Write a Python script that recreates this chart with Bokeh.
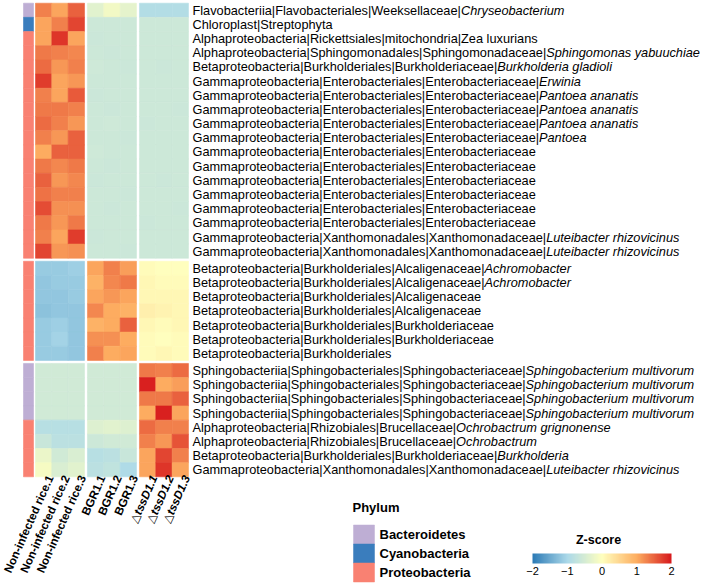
import numpy as np
from bokeh.plotting import figure
from bokeh.models import (Range1d, ColumnDataSource, LinearColorMapper, ColorBar,
                          FixedTicker, CustomJSTickFormatter)
from bokeh.transform import transform
from bokeh.core.properties import value
from bokeh.embed import file_html
from bokeh.resources import INLINE

# ---------------- data ----------------
sample_main = ["Non-infected rice.1", "Non-infected rice.2", "Non-infected rice.3",
               "BGR1.1", "BGR1.2", "BGR1.3", "\u25b3", "\u25b3", "\u25b3"]
sample_ital = ["", "", "", "", "", "", "tssD1.1", "tssD1.2", "tssD1.3"]
sample_group = [0, 0, 0, 1, 1, 1, 2, 2, 2]

row_group = [0, 0, 0, 0, 0, 0, 0, 0, 0, 0, 0, 0, 0, 0, 0, 0, 0, 0,
             1, 1, 1, 1, 1, 1, 1,
             2, 2, 2, 2, 2, 2, 2, 2]

label_main = [
    "Flavobacteriia|Flavobacteriales|Weeksellaceae|",
    "Chloroplast|Streptophyta",
    "Alphaproteobacteria|Rickettsiales|mitochondria|Zea luxurians",
    "Alphaproteobacteria|Sphingomonadales|Sphingomonadaceae|",
    "Betaproteobacteria|Burkholderiales|Burkholderiaceae|",
    "Gammaproteobacteria|Enterobacteriales|Enterobacteriaceae|",
    "Gammaproteobacteria|Enterobacteriales|Enterobacteriaceae|",
    "Gammaproteobacteria|Enterobacteriales|Enterobacteriaceae|",
    "Gammaproteobacteria|Enterobacteriales|Enterobacteriaceae|",
    "Gammaproteobacteria|Enterobacteriales|Enterobacteriaceae|",
    "Gammaproteobacteria|Enterobacteriales|Enterobacteriaceae",
    "Gammaproteobacteria|Enterobacteriales|Enterobacteriaceae",
    "Gammaproteobacteria|Enterobacteriales|Enterobacteriaceae",
    "Gammaproteobacteria|Enterobacteriales|Enterobacteriaceae",
    "Gammaproteobacteria|Enterobacteriales|Enterobacteriaceae",
    "Gammaproteobacteria|Enterobacteriales|Enterobacteriaceae",
    "Gammaproteobacteria|Xanthomonadales|Xanthomonadaceae|",
    "Gammaproteobacteria|Xanthomonadales|Xanthomonadaceae|",
    "Betaproteobacteria|Burkholderiales|Alcaligenaceae|",
    "Betaproteobacteria|Burkholderiales|Alcaligenaceae|",
    "Betaproteobacteria|Burkholderiales|Alcaligenaceae",
    "Betaproteobacteria|Burkholderiales|Alcaligenaceae",
    "Betaproteobacteria|Burkholderiales|Burkholderiaceae",
    "Betaproteobacteria|Burkholderiales|Burkholderiaceae",
    "Betaproteobacteria|Burkholderiales",
    "Sphingobacteriia|Sphingobacteriales|Sphingobacteriaceae|",
    "Sphingobacteriia|Sphingobacteriales|Sphingobacteriaceae|",
    "Sphingobacteriia|Sphingobacteriales|Sphingobacteriaceae|",
    "Sphingobacteriia|Sphingobacteriales|Sphingobacteriaceae|",
    "Alphaproteobacteria|Rhizobiales|Brucellaceae|",
    "Alphaproteobacteria|Rhizobiales|Brucellaceae|",
    "Betaproteobacteria|Burkholderiales|Burkholderiaceae|",
    "Gammaproteobacteria|Xanthomonadales|Xanthomonadaceae|",
]
label_ital = [
    "Chryseobacterium", "", "", "Sphingomonas yabuuchiae", "Burkholderia gladioli",
    "Erwinia", "Pantoea ananatis", "Pantoea ananatis", "Pantoea ananatis", "Pantoea",
    "", "", "", "", "", "", "Luteibacter rhizovicinus", "Luteibacter rhizovicinus",
    "Achromobacter", "Achromobacter", "", "", "", "", "",
    "Sphingobacterium multivorum", "Sphingobacterium multivorum",
    "Sphingobacterium multivorum", "Sphingobacterium multivorum",
    "Ochrobactrum grignonense", "Ochrobactrum", "Burkholderia", "Luteibacter rhizovicinus",
]

phylum = ["Bacteroidetes", "Cyanobacteria"] + ["Proteobacteria"] * 16 + \
         ["Proteobacteria"] * 7 + ["Bacteroidetes"] * 4 + ["Proteobacteria"] * 4
phylum_names = ["Bacteroidetes", "Cyanobacteria", "Proteobacteria"]
phylum_colors = ["#BEAED4", "#3A7DBD", "#F98172"]

ni_1 = [1.30, 1.05, 1.05, 1.35, 1.45, 1.75, 1.30, 1.35, 1.45, 1.30, 1.00, 1.35, 1.50, 1.40, 1.65, 1.35, 1.30, 1.70,
        -1.15, -1.20, -1.20, -1.25, -1.15, -1.15, -1.15,
        -0.55, -0.55, -0.55, -0.55, -0.85, -0.65, -0.25, -0.10]
ni_2 = [1.05, 1.30, 1.80, 1.30, 1.15, 1.05, 1.05, 1.35, 1.30, 1.15, 1.50, 1.25, 1.15, 1.30, 1.20, 1.15, 1.05, 1.15,
        -1.15, -1.15, -1.20, -1.20, -1.10, -1.05, -1.15,
        -0.55, -0.55, -0.55, -0.55, -0.85, -0.80, -0.55, -0.45]
ni_3 = [1.50, 1.70, 1.05, 1.25, 1.30, 1.15, 1.55, 1.30, 1.15, 1.50, 1.50, 1.35, 1.25, 1.30, 1.20, 1.35, 1.75, 1.20,
        -1.10, -1.15, -1.15, -1.20, -1.20, -1.20, -1.20,
        -0.55, -0.55, -0.55, -0.55, -0.85, -0.80, -0.45, -0.35]
bgr_1 = [-0.35, -0.60, -0.62, -0.60, -0.58, -0.60, -0.62, -0.60, -0.60, -0.60, -0.58, -0.60, -0.62, -0.60, -0.60, -0.60, -0.62, -0.60,
         1.05, 0.95, 1.05, 1.25, 0.95, 1.20, 1.30,
         -0.55, -0.55, -0.55, -0.55, -0.40, -0.60, -0.85, -0.80]
bgr_2 = [-0.15, -0.60, -0.60, -0.62, -0.60, -0.60, -0.60, -0.62, -0.58, -0.60, -0.60, -0.62, -0.60, -0.60, -0.62, -0.60, -0.60, -0.60,
         1.30, 1.25, 1.15, 1.00, 1.00, 1.20, 1.00,
         -0.55, -0.55, -0.55, -0.55, -0.35, -0.55, -0.80, -0.75]
bgr_3 = [-0.30, -0.60, -0.60, -0.60, -0.62, -0.60, -0.60, -0.60, -0.60, -0.62, -0.60, -0.60, -0.60, -0.62, -0.60, -0.60, -0.60, -0.62,
         1.10, 1.35, 1.05, 0.95, 1.50, 1.00, 1.05,
         -0.55, -0.55, -0.55, -0.55, -0.40, -0.55, -0.65, -0.95]
tss_1 = [-0.90, -0.60, -0.60, -0.60, -0.60, -0.60, -0.60, -0.60, -0.62, -0.60, -0.60, -0.60, -0.60, -0.60, -0.60, -0.62, -0.60, -0.60,
         0.05, 0.10, 0.10, 0.20, 0.10, 0.05, 0.05,
         1.35, 1.95, 1.35, 1.00, 1.45, 1.30, 1.05, 1.05]
tss_2 = [-0.90, -0.60, -0.60, -0.60, -0.62, -0.60, -0.60, -0.60, -0.60, -0.60, -0.60, -0.60, -0.62, -0.60, -0.60, -0.60, -0.60, -0.60,
         0.00, 0.05, 0.10, 0.15, 0.05, 0.00, 0.10,
         1.30, 1.00, 1.35, 1.95, 1.30, 1.15, 1.70, 1.80]
tss_3 = [-0.90, -0.60, -0.60, -0.60, -0.60, -0.60, -0.60, -0.62, -0.60, -0.60, -0.60, -0.60, -0.60, -0.60, -0.62, -0.60, -0.60, -0.60,
         0.00, 0.05, 0.10, 0.10, 0.10, 0.05, 0.05,
         1.45, 1.10, 1.50, 1.05, 1.30, 1.60, 1.30, 1.05]
columns = [ni_1, ni_2, ni_3, bgr_1, bgr_2, bgr_3, tss_1, tss_2, tss_3]

z_ticks = [-2, -1, 0, 1, 2]
z_anchor_colors = ["#2C7BB6", "#ABD9E9", "#FFFFBF", "#FDAE61", "#D7191C"]

# ---------------- layout (pixels) ----------------
FIG_W, FIG_H = 709, 584
CELL_W, ROW_H = 16.33, 14.17
HM_LEFT, HM_TOP = 35.0, 2.7
COL_GAP, ROW_GAP = 3.0, 3.0
FONT = "Liberation Sans"

gx = COL_GAP / CELL_W
gy = ROW_GAP / ROW_H
x_start = -HM_LEFT / CELL_W
x_end = x_start + FIG_W / CELL_W
y_top = -HM_TOP / ROW_H
y_bottom = y_top + FIG_H / ROW_H


def px2x(px):
    return x_start + px / CELL_W


def px2y(py):
    return y_top + py / ROW_H


_w = {}
for chars, w in [("ijl", 222), ("|", 260), (" .ftI", 278), ("r-", 333),
                 ("cksvxyzJ", 500), ("abdeghnopqu0123456789L", 556), ("FTZ", 611),
                 ("ABEKPSVXY", 667), ("CDHNRUw", 722), ("GOQ", 778), ("mM", 833), ("W", 944)]:
    for ch in chars:
        _w[ch] = w
_wb = {"t": 333, "s": 556, "D": 722, "1": 556, "2": 556, "3": 556, ".": 278}


def text_w(s, size, table=_w):
    return sum(table.get(c, 556) for c in s) * size / 1000.0


# palette: RdYlBu reversed, interpolated
def hex2rgb(h):
    return [int(h[i:i + 2], 16) for i in (1, 3, 5)]


anchors = np.array([hex2rgb(c) for c in z_anchor_colors], dtype=float)
pal = []
for tv in np.linspace(0, 4, 256):
    i = min(int(tv), 3)
    f = tv - i
    c = anchors[i] * (1 - f) + anchors[i + 1] * f
    pal.append("#%02x%02x%02x" % tuple(int(round(v)) for v in c))
mapper = LinearColorMapper(palette=pal, low=-2, high=2)

p = figure(width=FIG_W, height=FIG_H, x_range=Range1d(x_start, x_end),
           y_range=Range1d(y_bottom, y_top), x_axis_type=None, y_axis_type=None,
           toolbar_location=None, output_backend="svg", min_border=0,
           outline_line_color=None, background_fill_color="white")
p.xgrid.visible = False
p.ygrid.visible = False

n_rows = len(row_group)
n_cols = len(columns)
row_y = [i + gy * row_group[i] + 0.5 for i in range(n_rows)]
col_x = [j + gx * sample_group[j] + 0.5 for j in range(n_cols)]

xs, ys, vs = [], [], []
for j in range(n_cols):
    for i in range(n_rows):
        xs.append(col_x[j])
        ys.append(row_y[i])
        vs.append(columns[j][i])
src = ColumnDataSource(dict(x=xs, y=ys, v=vs))
p.rect(x="x", y="y", width=1, height=1, source=src,
       fill_color=transform("v", mapper), line_color=transform("v", mapper), line_width=0.6)

# phylum annotation column
pcol = {n: c for n, c in zip(phylum_names, phylum_colors)}
ann_src = ColumnDataSource(dict(y=row_y, c=[pcol[ph] for ph in phylum]))
p.rect(x=px2x(28.0), y="y", width=10.0 / CELL_W, height=1, source=ann_src,
       fill_color="c", line_color="c", line_width=0.6)

# row labels
hm_right = n_cols + 2 * gx
ROW_FS = 12.75
rl_src = ColumnDataSource(dict(
    x=[hm_right] * n_rows, y=row_y, m=label_main, it=label_ital,
    off=[4 + text_w(s, ROW_FS) for s in label_main]))
p.text(x="x", y="y", text="m", source=rl_src, x_offset=4, text_baseline="middle",
       text_align="left", text_font=value(FONT), text_font_size=f"{ROW_FS}px", text_color="black")
p.text(x="x", y="y", text="it", source=rl_src, x_offset="off", text_baseline="middle",
       text_align="left", text_font=value(FONT), text_font_size=f"{ROW_FS}px",
       text_font_style="italic", text_color="black")

# column labels (rotated)
ANG = 66.0
COL_FS = 11.7
LBL_DX, LBL_DY = 6.0, -1.0
hm_bottom = n_rows + 2 * gy
th = np.radians(ANG)
wi = [text_w(s, COL_FS, _wb) for s in sample_ital]
cl_src = ColumnDataSource(dict(
    x=col_x, y=[hm_bottom] * n_cols, m=sample_main, it=sample_ital,
    xo=[LBL_DX - w * np.cos(th) for w in wi], yo=[LBL_DY + w * np.sin(th) for w in wi]))
plain_idx = [j for j in range(n_cols) if not sample_ital[j]]
tri_idx = [j for j in range(n_cols) if sample_ital[j]]
src_plain = ColumnDataSource({k: [cl_src.data[k][j] for j in plain_idx] for k in cl_src.data})
src_tri = ColumnDataSource({k: [cl_src.data[k][j] for j in tri_idx] for k in cl_src.data})
p.text(x="x", y="y", text="m", source=src_plain, x_offset=LBL_DX, y_offset=LBL_DY, angle=ANG,
       angle_units="deg", text_align="right", text_baseline="middle",
       text_font=value(FONT), text_font_size=f"{COL_FS}px", text_font_style="bold", text_color="black")
p.text(x="x", y="y", text="m", source=src_tri, x_offset="xo", y_offset="yo", angle=ANG,
       angle_units="deg", text_align="right", text_baseline="middle",
       text_font=value("DejaVu Sans"), text_font_size=f"{COL_FS}px", text_font_style="normal",
       text_color="black")
p.text(x="x", y="y", text="it", source=src_tri, x_offset=LBL_DX, y_offset=LBL_DY, angle=ANG,
       angle_units="deg", text_align="right", text_baseline="middle",
       text_font=value(FONT), text_font_size=f"{COL_FS}px", text_font_style="bold italic",
       text_color="black")

# Phylum legend
LEG_X, LEG_TOP, LEG_SZ_W, LEG_SZ_H = 353.0, 524.5, 21.0, 19.0
p.text(x=[px2x(LEG_X - 1)], y=[px2y(507.0)], text=["Phylum"], text_baseline="middle",
       text_font=value(FONT), text_font_size="13px", text_font_style="bold", text_color="black")
leg_y = [px2y(LEG_TOP + LEG_SZ_H * (k + 0.5)) for k in range(len(phylum_names))]
leg_src = ColumnDataSource(dict(y=leg_y, c=phylum_colors, n=phylum_names))
p.rect(x=px2x(LEG_X + LEG_SZ_W / 2), y="y", width=LEG_SZ_W / CELL_W, height=LEG_SZ_H / ROW_H,
       source=leg_src, fill_color="c", line_color="c", line_width=0.5)
p.text(x=px2x(LEG_X + LEG_SZ_W + 5), y="y", text="n", source=leg_src, text_baseline="middle",
       text_font=value(FONT), text_font_size="13px", text_font_style="bold", text_color="black")

# Z-score colour bar
p.text(x=[px2x(598.0)], y=[px2y(539.0)], text=["Z-score"], text_baseline="middle",
       text_align="center", text_font=value(FONT), text_font_size="12.5px",
       text_font_style="bold", text_color="black")
cb = ColorBar(color_mapper=mapper, orientation="horizontal", width=139, height=10,
              padding=0, location=(532, 7), title=None, label_standoff=3,
              ticker=FixedTicker(ticks=z_ticks),
              formatter=CustomJSTickFormatter(code="return tick < 0 ? '\u2212' + Math.abs(tick) : String(tick);"),
              major_label_text_font=FONT, major_label_text_font_size="11px",
              major_label_text_color="black",
              major_tick_line_color=None, minor_tick_line_color=None,
              bar_line_color=None, border_line_color=None, background_fill_alpha=0)
p.add_layout(cb)

with open("out.html", "w", encoding="utf-8") as f:
    f.write(file_html(p, INLINE))
